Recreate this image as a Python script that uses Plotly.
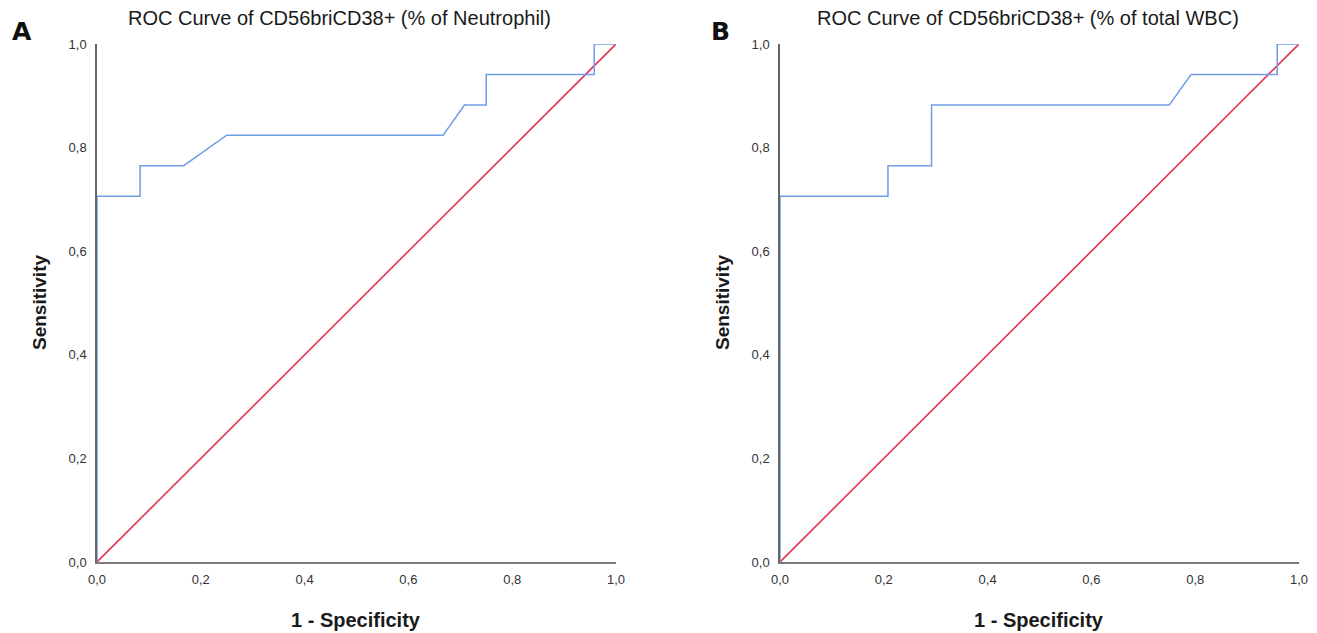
import plotly.graph_objects as go

W, H = 1317, 633
OFF = 8  # page body margin in the rendered html

# Panel A: ROC of CD56briCD38+ (% of Neutrophil)
a_fpr = [0.0, 0.0, 0.083, 0.083, 0.167, 0.25, 0.667, 0.708, 0.75, 0.75, 0.958, 0.958, 1.0]
a_tpr = [0.0, 0.706, 0.706, 0.765, 0.765, 0.824, 0.824, 0.882, 0.882, 0.941, 0.941, 1.0, 1.0]

# Panel B: ROC of CD56briCD38+ (% of total WBC)
b_fpr = [0.0, 0.0, 0.208, 0.208, 0.292, 0.292, 0.75, 0.792, 0.958, 0.958, 1.0]
b_tpr = [0.0, 0.706, 0.706, 0.765, 0.765, 0.882, 0.882, 0.941, 0.941, 1.0, 1.0]

ref_line = [0.0, 1.0]

tick_vals = [0.0, 0.2, 0.4, 0.6, 0.8, 1.0]
tick_text = ["0,0", "0,2", "0,4", "0,6", "0,8", "1,0"]

titles = ["ROC Curve of CD56briCD38+ (% of Neutrophil)", "ROC Curve of CD56briCD38+ (% of total WBC)"]
letters = ["A", "B"]

BLUE = "#6f9de6"
RED = "#e5334f"
FONT = "Liberation Sans, Arial, sans-serif"

def px(x):
    return (x - OFF) / W

def py(y):
    return 1 - (y - OFF) / H

panels = [
    dict(x0=97, x1=616, fpr=a_fpr, tpr=a_tpr, title_cx=339, letter_x=22, xlab_cx=356),
    dict(x0=780, x1=1299, fpr=b_fpr, tpr=b_tpr, title_cx=1028, letter_x=720, xlab_cx=1039),
]
y_top, y_bot = 44, 562

fig = go.Figure()
annotations = []
for i, p in enumerate(panels):
    xa = "x" if i == 0 else "x2"
    ya = "y" if i == 0 else "y2"
    fig.add_trace(go.Scatter(x=ref_line, y=ref_line, mode="lines",
                             line=dict(color=RED, width=1.6), xaxis=xa, yaxis=ya,
                             showlegend=False, hoverinfo="skip"))
    fig.add_trace(go.Scatter(x=p["fpr"], y=p["tpr"], mode="lines",
                             line=dict(color=BLUE, width=1.5), xaxis=xa, yaxis=ya,
                             showlegend=False))
    sfx = "" if i == 0 else "2"
    fig.layout["xaxis" + sfx] = dict(
        domain=[px(p["x0"]), px(p["x1"])], range=[0, 1], anchor=ya, automargin=False,
        tickvals=tick_vals, ticktext=tick_text, showgrid=False, zeroline=False,
        showline=True, linecolor="#7a7a7a", linewidth=1.5, ticks="", ticklabelstandoff=5,
        tickfont=dict(family=FONT, size=13, color="#333333"), fixedrange=True)
    fig.layout["yaxis" + sfx] = dict(
        domain=[py(y_bot), py(y_top)], range=[0, 1], anchor=xa, automargin=False,
        tickvals=tick_vals, ticktext=tick_text, showgrid=False, zeroline=False,
        showline=True, linecolor="#666666", linewidth=1.5, ticks="", ticklabelstandoff=6,
        tickfont=dict(family=FONT, size=13, color="#333333"), fixedrange=True)
    annotations.append(dict(text=titles[i], x=px(p["title_cx"]), y=py(18), xref="paper", yref="paper",
                            showarrow=False, xanchor="center", yanchor="middle",
                            font=dict(family=FONT, size=20, color="#1a1a1a")))
    annotations.append(dict(text="<b>" + letters[i] + "</b>", x=px(p["letter_x"]), y=py(32), xref="paper", yref="paper",
                            showarrow=False, xanchor="center", yanchor="middle",
                            font=dict(family="DejaVu Sans, sans-serif", size=25, color="#111111")))
    annotations.append(dict(text="<b>1 - Specificity</b>", x=px(p["xlab_cx"]), y=py(620),
                            xref="paper", yref="paper", showarrow=False, xanchor="center", yanchor="middle",
                            font=dict(family=FONT, size=20, color="#1a1a1a")))
    annotations.append(dict(text="<b>Sensitivity</b>", x=px(p["x0"] - 58), y=py((y_top + y_bot) / 2),
                            xref="paper", yref="paper", showarrow=False, xanchor="center", yanchor="middle",
                            textangle=-90, font=dict(family=FONT, size=19, color="#1a1a1a")))

fig.update_layout(width=W, height=H, margin=dict(l=0, r=0, t=0, b=0, autoexpand=False),
                  paper_bgcolor="white", plot_bgcolor="white", template="none",
                  annotations=annotations, showlegend=False)

fig.write_html("out.html")
